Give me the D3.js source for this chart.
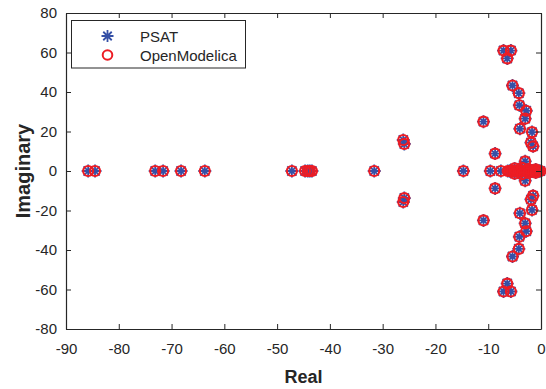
<!DOCTYPE html>
<html>
<head>
<meta charset="utf-8">
<script src="https://cdn.jsdelivr.net/npm/d3@7"></script>
<style>
  html, body { margin: 0; padding: 0; background: #fff; }
  svg { display: block; font-family: "Liberation Sans", Arial, Helvetica, sans-serif; }
</style>
</head>
<body>
<svg id="chart" width="546" height="389"></svg>
<script>
// Eigenvalues of the system: real parts and imaginary parts.
const psatReal = [
  -85.8, -84.5, -73.1, -71.6, -68.2, -63.7, -47.2, -44.7, -44.2, -43.8, -43.4,
  -31.6, -14.7, -9.6, -7.6, -6.3, -5.9, -5.5, -5.1, -4.7, -4.3, -3.9, -3.5,
  -3.1, -2.7, -2.3, -1.9, -1.5, -1.1, -0.7, -0.4, -0.1,
  -26.1, -26.1, -25.9, -25.9, -10.9, -10.9, -8.7, -8.7, -7.1, -7.1, -5.7, -5.7,
  -6.4, -6.4, -5.4, -5.4, -4.2, -4.2, -4.1, -4.1, -2.8, -2.8, -3.0, -3.0,
  -4.0, -4.0, -1.7, -1.7, -1.5, -1.5, -1.9, -1.9, -3.0, -3.0, -5.0, -5.0,
  -3.6, -3.6, -2.4, -2.4, -1.0, -1.0
];
const psatImag = [
  0, 0, 0, 0, 0, 0, 0, 0, 0, 0, 0,
  0, 0, 0, 0, 0, 0, 0, 0, 0, 0, 0, 0,
  0, 0, 0, 0, 0, 0, 0, 0, 0,
  15.7, -15.7, 13.7, -13.7, 25, -25, 8.8, -8.8, 61, -61, 61, -61,
  57, -57, 43.3, -43.3, 39.4, -39.4, 33.3, -33.3, 30.5, -30.5, 26.5, -26.5,
  21.4, -21.4, 19.7, -19.7, 12.5, -12.5, 14.4, -14.4, 4.9, -4.9, 1.3, -1.3,
  1.6, -1.6, 1.0, -1.0, 0.8, -0.8
];
const omReal = psatReal.slice();
const omImag = psatImag.slice();

const seriesNames = ["PSAT", "OpenModelica"];
const xTicks = [-90, -80, -70, -60, -50, -40, -30, -20, -10, 0];
const yTicks = [-80, -60, -40, -20, 0, 20, 40, 60, 80];

const blue = "#3550a6";
const red = "#ec1c24";
const ink = "#262626";

const svg = d3.select("#chart");
const box = { left: 66, right: 541, top: 13, bottom: 329 };

const x = d3.scaleLinear().domain([-90, 0]).range([box.left, box.right]);
const y = d3.scaleLinear().domain([-80, 80]).range([box.bottom, box.top]);

// Asterisk marker: horizontal, vertical and both diagonals.
function asterisk(r) {
  const d = r * Math.SQRT1_2;
  return `M${-r},0L${r},0M0,${-r}L0,${r}M${-d},${-d}L${d},${d}M${-d},${d}L${d},${-d}`;
}

const plot = svg.append("g");

// PSAT eigenvalues
plot.append("g").selectAll("path")
  .data(d3.range(psatReal.length))
  .join("path")
  .attr("transform", i => `translate(${x(psatReal[i])},${y(psatImag[i])})`)
  .attr("d", asterisk(6.5))
  .attr("fill", "none")
  .attr("stroke", blue)
  .attr("stroke-width", 1.8);

// OpenModelica eigenvalues
plot.append("g").selectAll("circle")
  .data(d3.range(omReal.length))
  .join("circle")
  .attr("cx", i => x(omReal[i]))
  .attr("cy", i => y(omImag[i]))
  .attr("r", 5)
  .attr("fill", "none")
  .attr("stroke", red)
  .attr("stroke-width", 2.2);

// Axes with inward ticks on all four sides
const fmt = d => String(d);
const axes = svg.append("g").attr("color", ink);
axes.append("g").attr("transform", `translate(0,${box.bottom})`)
  .call(d3.axisBottom(x).tickValues(xTicks).tickFormat(fmt).tickSizeInner(-5).tickSizeOuter(0).tickPadding(14));
axes.append("g").attr("transform", `translate(0,${box.top})`)
  .call(d3.axisTop(x).tickValues(xTicks).tickSizeInner(-5).tickSizeOuter(0).tickFormat(""));
axes.append("g").attr("transform", `translate(${box.left},0)`)
  .call(d3.axisLeft(y).tickValues(yTicks).tickFormat(fmt).tickSizeInner(-5).tickSizeOuter(0).tickPadding(9));
axes.append("g").attr("transform", `translate(${box.right},0)`)
  .call(d3.axisRight(y).tickValues(yTicks).tickSizeInner(-5).tickSizeOuter(0).tickFormat(""));

axes.selectAll(".domain").attr("stroke", ink).attr("stroke-width", 1.2);
axes.selectAll(".tick line").attr("stroke", ink).attr("stroke-width", 1);
axes.selectAll(".tick text")
  .attr("font-size", 15)
  .attr("font-family", "Liberation Sans, Arial, sans-serif")
  .attr("fill", ink);

// Axis titles
svg.append("text")
  .attr("x", (box.left + box.right) / 2).attr("y", 383)
  .attr("text-anchor", "middle")
  .attr("font-size", 18).attr("font-weight", "bold").attr("fill", ink)
  .text("Real");
svg.append("text")
  .attr("transform", `translate(30,${(box.top + box.bottom) / 2}) rotate(-90)`)
  .attr("text-anchor", "middle")
  .attr("font-size", 20).attr("font-weight", "bold").attr("fill", ink)
  .text("Imaginary");

// Legend
const legend = svg.append("g");
legend.append("rect")
  .attr("x", 71.5).attr("y", 20.5).attr("width", 174).attr("height", 47.5)
  .attr("fill", "#fff").attr("stroke", ink).attr("stroke-width", 1);
const rows = [36, 55];
legend.append("path")
  .attr("transform", `translate(107.5,${rows[0]})`)
  .attr("d", asterisk(6))
  .attr("fill", "none").attr("stroke", blue).attr("stroke-width", 1.8);
legend.append("circle")
  .attr("cx", 107.5).attr("cy", rows[1]).attr("r", 4.8)
  .attr("fill", "none").attr("stroke", red).attr("stroke-width", 2);
legend.selectAll("text.item")
  .data(seriesNames)
  .join("text")
  .attr("class", "item")
  .attr("x", 140).attr("y", (d, i) => rows[i] + 5.5)
  .attr("font-size", 15).attr("fill", ink)
  .text(d => d);
</script>
</body>
</html>
